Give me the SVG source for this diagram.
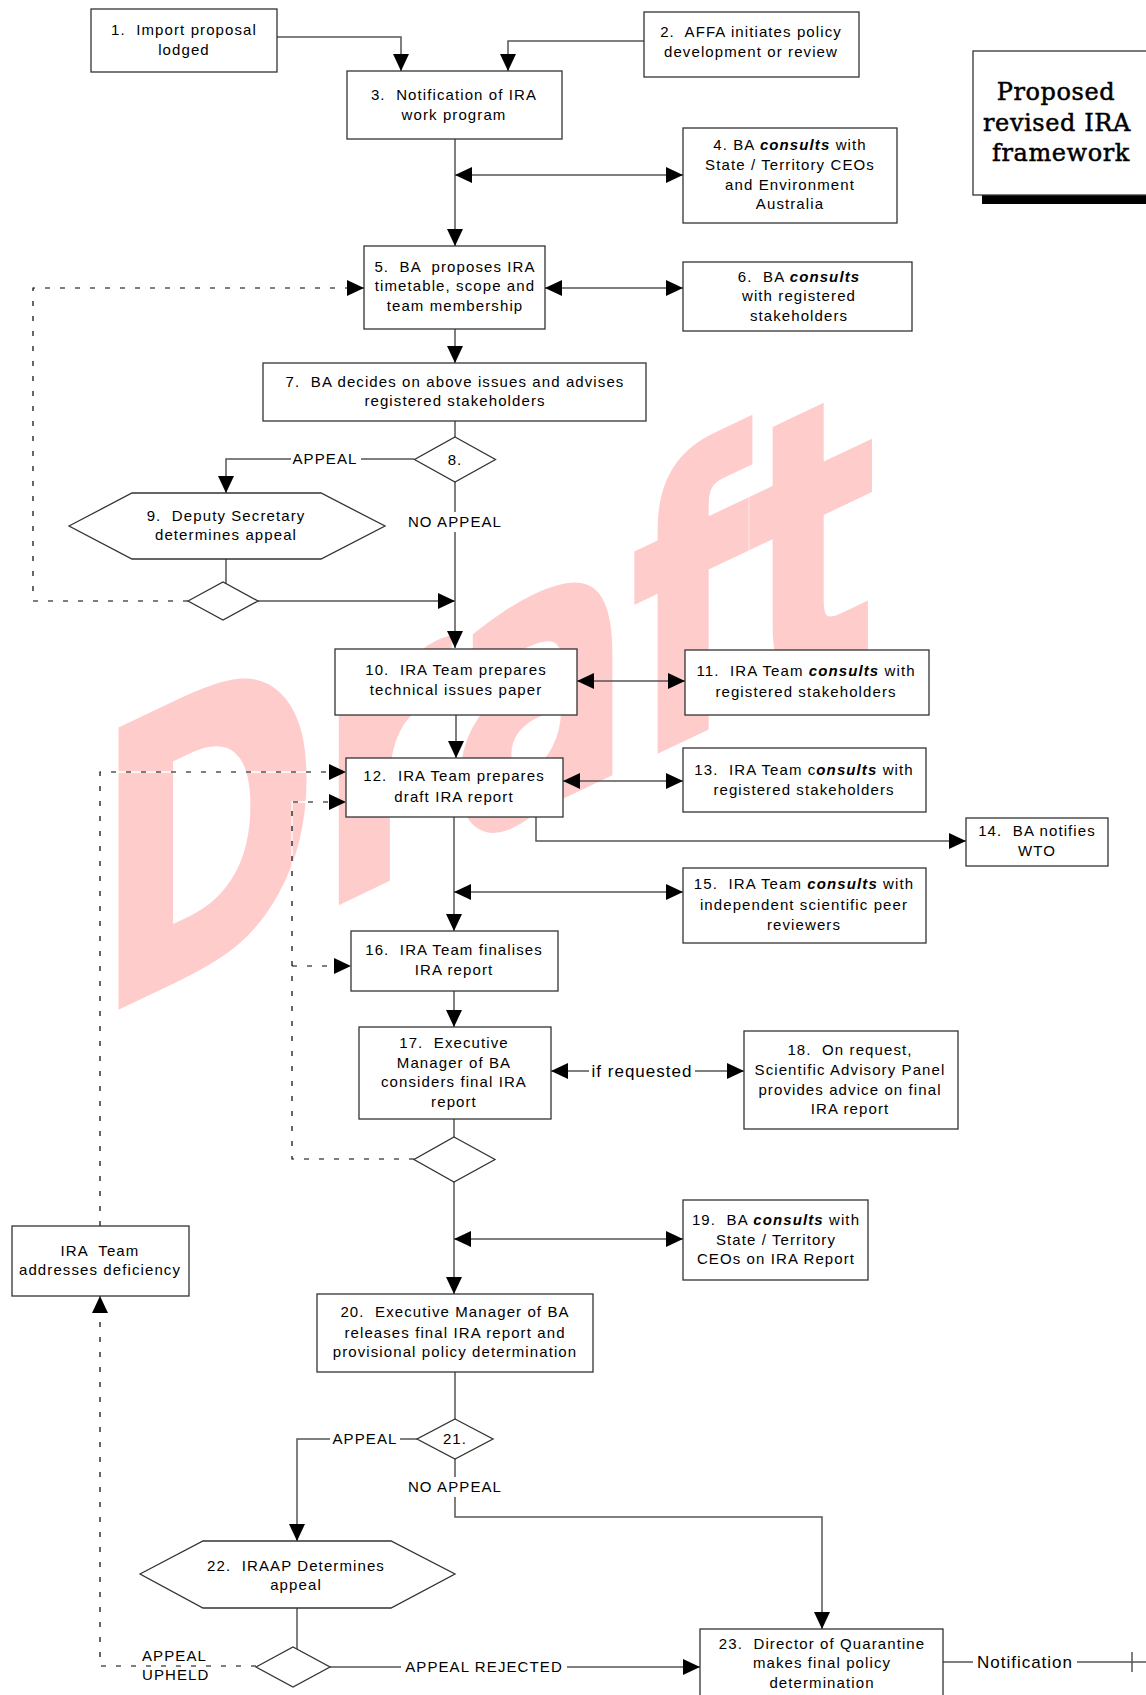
<svg xmlns="http://www.w3.org/2000/svg" width="1146" height="1695" viewBox="0 0 1146 1695">
<style>
.box{fill:#fff;stroke:#333;stroke-width:1.3}
.ln{fill:none;stroke:#555;stroke-width:1.5}
.dbg{fill:none;stroke:#fff;stroke-width:1.3}
.dash{fill:none;stroke:#000;stroke-width:1.2;stroke-dasharray:5 10}
.t{font-family:"Liberation Sans",Arial,sans-serif;font-size:15px;letter-spacing:1.1px;text-anchor:middle;fill:#000}
.big{font-size:17px;letter-spacing:1px}
.c{font-weight:bold;font-style:italic}
.lbg{fill:#fff}
.title{font-family:"DejaVu Serif",serif;font-size:24px;letter-spacing:0.6px;text-anchor:middle;fill:#000;stroke:#000;stroke-width:0.5}
</style>
<defs>
<marker id="ah" viewBox="0 0 17 16" refX="17" refY="8" markerWidth="17" markerHeight="16" markerUnits="userSpaceOnUse" orient="auto-start-reverse"><path d="M0,0 L17,8 L0,16 z" fill="#000"/></marker>
</defs>
<rect width="1146" height="1695" fill="#fff"/>
<text id="watermark" x="96" y="1063" transform="skewY(-25.4)" font-family="DejaVu Sans, Liberation Sans, sans-serif" font-weight="bold" font-size="379" fill="#FFCCCC" stroke="#FFCCCC" stroke-width="6" textLength="780" lengthAdjust="spacingAndGlyphs">Draft</text>

<g id="connectors">
<path class="ln" d="M277,37 H401 V71" marker-end="url(#ah)"/>
<path class="ln" d="M644,41 H508 V71" marker-end="url(#ah)"/>
<path class="ln" d="M455,139 V246" marker-end="url(#ah)"/>
<path class="ln" d="M455,175 H683" marker-start="url(#ah)" marker-end="url(#ah)"/>
<path class="ln" d="M545,288 H683" marker-start="url(#ah)" marker-end="url(#ah)"/>
<path class="dbg" d="M188,601 H33 V288 H347"/>
<path class="dash" d="M188,601 H33 V288 H364" marker-end="url(#ah)"/>
<path class="ln" d="M455,329 V363" marker-end="url(#ah)"/>
<path class="ln" d="M455,421 V437"/>
<path class="ln" d="M414,459 H226 V493" marker-end="url(#ah)"/>
<rect class="lbg" x="291" y="450" width="70" height="18"/>
<text class="t" x="325" y="464">APPEAL</text>
<path class="ln" d="M226,559 V584"/>
<path class="ln" d="M258,601 H455" marker-end="url(#ah)"/>
<path class="ln" d="M455,482 V648" marker-end="url(#ah)"/>
<rect class="lbg" x="404" y="512" width="102" height="20"/>
<text class="t" x="455" y="527">NO APPEAL</text>
<path class="ln" d="M577,681 H685" marker-start="url(#ah)" marker-end="url(#ah)"/>
<path class="ln" d="M456,715 V758" marker-end="url(#ah)"/>
<path class="ln" d="M563,781 H683" marker-start="url(#ah)" marker-end="url(#ah)"/>
<path class="ln" d="M536,817 V841 H966" marker-end="url(#ah)"/>
<path class="ln" d="M454,817 V931" marker-end="url(#ah)"/>
<path class="ln" d="M454,892 H683" marker-start="url(#ah)" marker-end="url(#ah)"/>
<path class="ln" d="M454,991 V1027" marker-end="url(#ah)"/>
<path class="ln" d="M551,1071 H744" marker-start="url(#ah)" marker-end="url(#ah)"/>
<rect class="lbg" x="589" y="1060" width="106" height="22"/>
<text class="t big" x="642" y="1077">if requested</text>
<path class="ln" d="M454,1119 V1137"/>
<path class="dbg" d="M414,1159 H292 V802 H330 M292,966 H335"/>
<path class="dash" d="M414,1159 H292 V802 H346" marker-end="url(#ah)"/>
<path class="dash" d="M292,966 H351" marker-end="url(#ah)"/>
<path class="ln" d="M454,1182 V1294" marker-end="url(#ah)"/>
<path class="ln" d="M454,1239 H683" marker-start="url(#ah)" marker-end="url(#ah)"/>
<path class="dbg" d="M100,1226 V772 H330"/>
<path class="dash" d="M100,1226 V772 H346" marker-end="url(#ah)"/>
<path class="ln" d="M455,1372 V1419"/>
<path class="ln" d="M417,1439 H297 V1541" marker-end="url(#ah)"/>
<rect class="lbg" x="330" y="1430" width="70" height="18"/>
<text class="t" x="365" y="1444">APPEAL</text>
<path class="ln" d="M455,1459 V1517 H822 V1629" marker-end="url(#ah)"/>
<rect class="lbg" x="404" y="1477" width="102" height="20"/>
<text class="t" x="455" y="1492">NO APPEAL</text>
<path class="ln" d="M297,1608 V1649"/>
<path class="ln" d="M330,1667 H700" marker-end="url(#ah)"/>
<rect class="lbg" x="401" y="1658" width="166" height="18"/>
<text class="t" x="484" y="1672">APPEAL REJECTED</text>
<path class="dash" d="M256,1666 H100 V1296" marker-end="url(#ah)"/>
<text class="t" x="142" y="1661" style="text-anchor:start">APPEAL</text>
<text class="t" x="142" y="1680" style="text-anchor:start">UPHELD</text>
<path class="ln" d="M943,1662 H1146 M1132,1652 V1672"/>
<rect class="lbg" x="973" y="1651" width="104" height="22"/>
<text class="t big" x="1025" y="1668">Notification</text>
</g>

<g id="title">
<rect x="982" y="195" width="170" height="9" fill="#000"/>
<rect class="box" x="973" y="51" width="180" height="144"/>
<text class="title" x="1056" y="100">Proposed</text>
<text class="title" x="1057" y="131">revised IRA</text>
<text class="title" x="1061" y="161">framework</text>
</g>

<g id="n1"><rect class="box" x="91" y="9" width="186" height="63"/>
<text class="t" xml:space="preserve"><tspan x="184" y="35">1.  Import proposal</tspan><tspan x="184" y="55">lodged</tspan></text></g>
<g id="n2"><rect class="box" x="644" y="12" width="215" height="65"/>
<text class="t" xml:space="preserve"><tspan x="751" y="37">2.  AFFA initiates policy</tspan><tspan x="751" y="57">development or review</tspan></text></g>
<g id="n3"><rect class="box" x="347" y="71" width="215" height="68"/>
<text class="t" xml:space="preserve"><tspan x="454" y="100">3.  Notification of IRA</tspan><tspan x="454" y="120">work program</tspan></text></g>
<g id="n4"><rect class="box" x="683" y="128" width="214" height="95"/>
<text class="t" xml:space="preserve"><tspan x="790" y="150">4. BA <tspan class="c">consults</tspan> with</tspan><tspan x="790" y="170">State / Territory CEOs</tspan><tspan x="790" y="190">and Environment</tspan><tspan x="790" y="209">Australia</tspan></text></g>
<g id="n5"><rect class="box" x="364" y="246" width="181" height="83"/>
<text class="t" xml:space="preserve"><tspan x="455" y="272">5.  BA  proposes IRA</tspan><tspan x="455" y="291">timetable, scope and</tspan><tspan x="455" y="311">team membership</tspan></text></g>
<g id="n6"><rect class="box" x="683" y="262" width="229" height="69"/>
<text class="t" xml:space="preserve"><tspan x="799" y="282">6.  BA <tspan class="c">consults</tspan></tspan><tspan x="799" y="301">with registered</tspan><tspan x="799" y="321">stakeholders</tspan></text></g>
<g id="n7"><rect class="box" x="263" y="363" width="383" height="58"/>
<text class="t" xml:space="preserve"><tspan x="455" y="387">7.  BA decides on above issues and advises</tspan><tspan x="455" y="406">registered stakeholders</tspan></text></g>
<g id="n8"><polygon class="box" points="455,437 495.5,459.5 455,482 414.5,459.5"/>
<text class="t" x="455" y="465">8.</text></g>
<g id="n9"><polygon class="box" points="69,526 132,493 321,493 385,526 321,559 132,559"/>
<text class="t" xml:space="preserve"><tspan x="226" y="521">9.  Deputy Secretary</tspan><tspan x="226" y="540">determines appeal</tspan></text></g>
<g id="d9"><polygon class="box" points="188,601 223,582 258,601 223,620"/></g>
<g id="n10"><rect class="box" x="335" y="649" width="242" height="66"/>
<text class="t" xml:space="preserve"><tspan x="456" y="675">10.  IRA Team prepares</tspan><tspan x="456" y="695">technical issues paper</tspan></text></g>
<g id="n11"><rect class="box" x="685" y="650" width="244" height="65"/>
<text class="t" xml:space="preserve"><tspan x="806" y="676">11.  IRA Team <tspan class="c">consults</tspan> with</tspan><tspan x="806" y="697">registered stakeholders</tspan></text></g>
<g id="n12"><rect class="box" x="346" y="758" width="217" height="59"/>
<text class="t" xml:space="preserve"><tspan x="454" y="781">12.  IRA Team prepares</tspan><tspan x="454" y="802">draft IRA report</tspan></text></g>
<g id="n13"><rect class="box" x="683" y="748" width="243" height="64"/>
<text class="t" xml:space="preserve"><tspan x="804" y="775">13.  IRA Team c<tspan class="c">onsults</tspan> with</tspan><tspan x="804" y="795">registered stakeholders</tspan></text></g>
<g id="n14"><rect class="box" x="966" y="818" width="142" height="48"/>
<text class="t" xml:space="preserve"><tspan x="1037" y="836">14.  BA notifies</tspan><tspan x="1037" y="856">WTO</tspan></text></g>
<g id="n15"><rect class="box" x="683" y="868" width="243" height="75"/>
<text class="t" xml:space="preserve"><tspan x="804" y="889">15.  IRA Team <tspan class="c">consults</tspan> with</tspan><tspan x="804" y="910">independent scientific peer</tspan><tspan x="804" y="930">reviewers</tspan></text></g>
<g id="n16"><rect class="box" x="351" y="931" width="207" height="60"/>
<text class="t" xml:space="preserve"><tspan x="454" y="955">16.  IRA Team finalises</tspan><tspan x="454" y="975">IRA report</tspan></text></g>
<g id="n17"><rect class="box" x="359" y="1027" width="192" height="92"/>
<text class="t" xml:space="preserve"><tspan x="454" y="1048">17.  Executive</tspan><tspan x="454" y="1068">Manager of BA</tspan><tspan x="454" y="1087">considers final IRA</tspan><tspan x="454" y="1107">report</tspan></text></g>
<g id="n18"><rect class="box" x="744" y="1031" width="214" height="98"/>
<text class="t" xml:space="preserve"><tspan x="850" y="1055">18.  On request,</tspan><tspan x="850" y="1075">Scientific Advisory Panel</tspan><tspan x="850" y="1095">provides advice on final</tspan><tspan x="850" y="1114">IRA report</tspan></text></g>
<g id="d17"><polygon class="box" points="454,1137 495,1159.5 454,1182 414,1159.5"/></g>
<g id="n19"><rect class="box" x="683" y="1200" width="185" height="80"/>
<text class="t" xml:space="preserve"><tspan x="776" y="1225">19.  BA <tspan class="c">consults</tspan> with</tspan><tspan x="776" y="1245">State / Territory</tspan><tspan x="776" y="1264">CEOs on IRA Report</tspan></text></g>
<g id="nTeam"><rect class="box" x="12" y="1226" width="177" height="70"/>
<text class="t" xml:space="preserve"><tspan x="100" y="1256">IRA  Team</tspan><tspan x="100" y="1275">addresses deficiency</tspan></text></g>
<g id="n20"><rect class="box" x="317" y="1294" width="276" height="78"/>
<text class="t" xml:space="preserve"><tspan x="455" y="1317">20.  Executive Manager of BA</tspan><tspan x="455" y="1338">releases final IRA report and</tspan><tspan x="455" y="1357">provisional policy determination</tspan></text></g>
<g id="n21"><polygon class="box" points="455,1419 493,1439 455,1459 417,1439"/>
<text class="t" x="455" y="1444">21.</text></g>
<g id="n22"><polygon class="box" points="140,1574 203,1541 391,1541 455,1574 391,1608 203,1608"/>
<text class="t" xml:space="preserve"><tspan x="296" y="1571">22.  IRAAP Determines</tspan><tspan x="296" y="1590">appeal</tspan></text></g>
<g id="d22"><polygon class="box" points="256,1667 293,1647 330,1667 293,1687"/></g>
<g id="n23"><rect class="box" x="700" y="1629" width="243" height="80"/>
<text class="t" xml:space="preserve"><tspan x="822" y="1649">23.  Director of Quarantine</tspan><tspan x="822" y="1668">makes final policy</tspan><tspan x="822" y="1688">determination</tspan></text></g>
</svg>
